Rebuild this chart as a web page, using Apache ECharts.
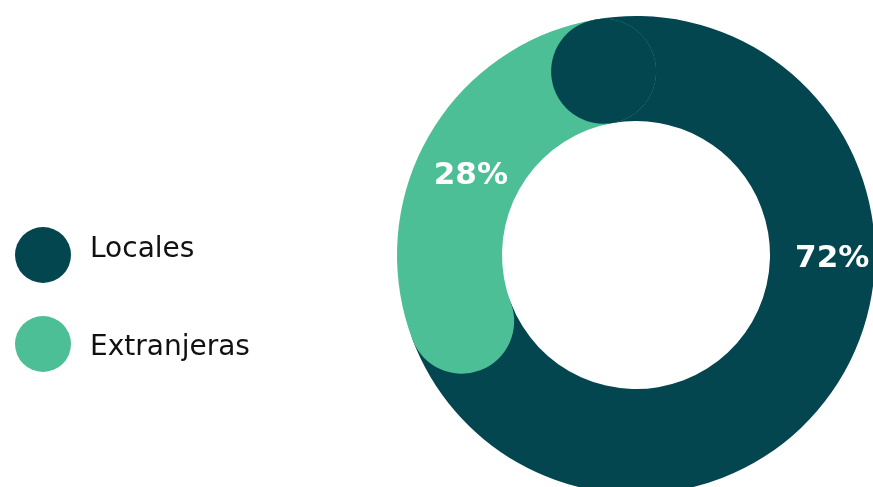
<!DOCTYPE html>
<html>
<head>
<meta charset="utf-8">
<script src="https://cdn.jsdelivr.net/npm/echarts@6/dist/echarts.min.js"></script>
<style>
  html, body { margin: 0; padding: 0; background: #fff; }
  #main { width: 873px; height: 487px; }
</style>
</head>
<body>
<div id="main"></div>
<script>
// datos
const categorias = ['Locales', 'Extranjeras'];
const valores = [72, 28];
const colores = ['#03464f', '#4dbf96'];

const chart = echarts.init(document.getElementById('main'));

// offsets de etiqueta para acercarlas a donde estan en el diseño
const labelOffsets = [[34, -88], [-3, 13]];

let series = categorias.map(function (name, i) {
  return {
    name: name,
    type: 'bar',
    coordinateSystem: 'polar',
    stack: 'anillo',
    roundCap: true,
    barCategoryGap: '0%',
    clip: false,
    data: [valores[i]],
    itemStyle: { color: colores[i] },
    label: {
      show: true,
      position: 'middle',
      rotate: 0,
      offset: labelOffsets[i],
      formatter: '{c}%',
      color: '#fff',
      fontFamily: 'DejaVu Sans',
      fontWeight: 'bold',
      fontSize: 31
    },
    emphasis: { disabled: true }
  };
});

// tapa redonda del primer tramo, dibujada encima del ultimo
series.push({
  name: 'tapa',
  type: 'bar',
  coordinateSystem: 'polar',
  stack: 'anillo',
  roundCap: true,
  barCategoryGap: '0%',
  clip: false,
  data: [0.0001],
  itemStyle: { color: colores[0] },
  emphasis: { disabled: true },
  silent: true
});

const legendText = {
  fontFamily: 'DejaVu Sans',
  fontSize: 28,
  color: '#111'
};

chart.setOption({
  animation: false,
  polar: {
    center: [636, 255],
    radius: [134, 239]
  },
  angleAxis: {
    max: 100,
    startAngle: 100,
    clockwise: true,
    show: false
  },
  radiusAxis: {
    type: 'category',
    data: ['total'],
    show: false
  },
  legend: {
    orient: 'vertical',
    left: 15,
    top: 227,
    padding: 0,
    itemWidth: 56,
    itemHeight: 56,
    itemGap: 33,
    icon: 'circle',
    data: categorias,
    selectedMode: false,
    formatter: function (name) {
      return name == 'Locales' ? '{a|' + name + '}' : '{b|' + name + '}';
    },
    textStyle: {
      rich: {
        a: Object.assign({ padding: [0, 0, 10, 14] }, legendText),
        b: Object.assign({ padding: [8, 0, 0, 14] }, legendText)
      }
    }
  },
  series: series
});
</script>
</body>
</html>
